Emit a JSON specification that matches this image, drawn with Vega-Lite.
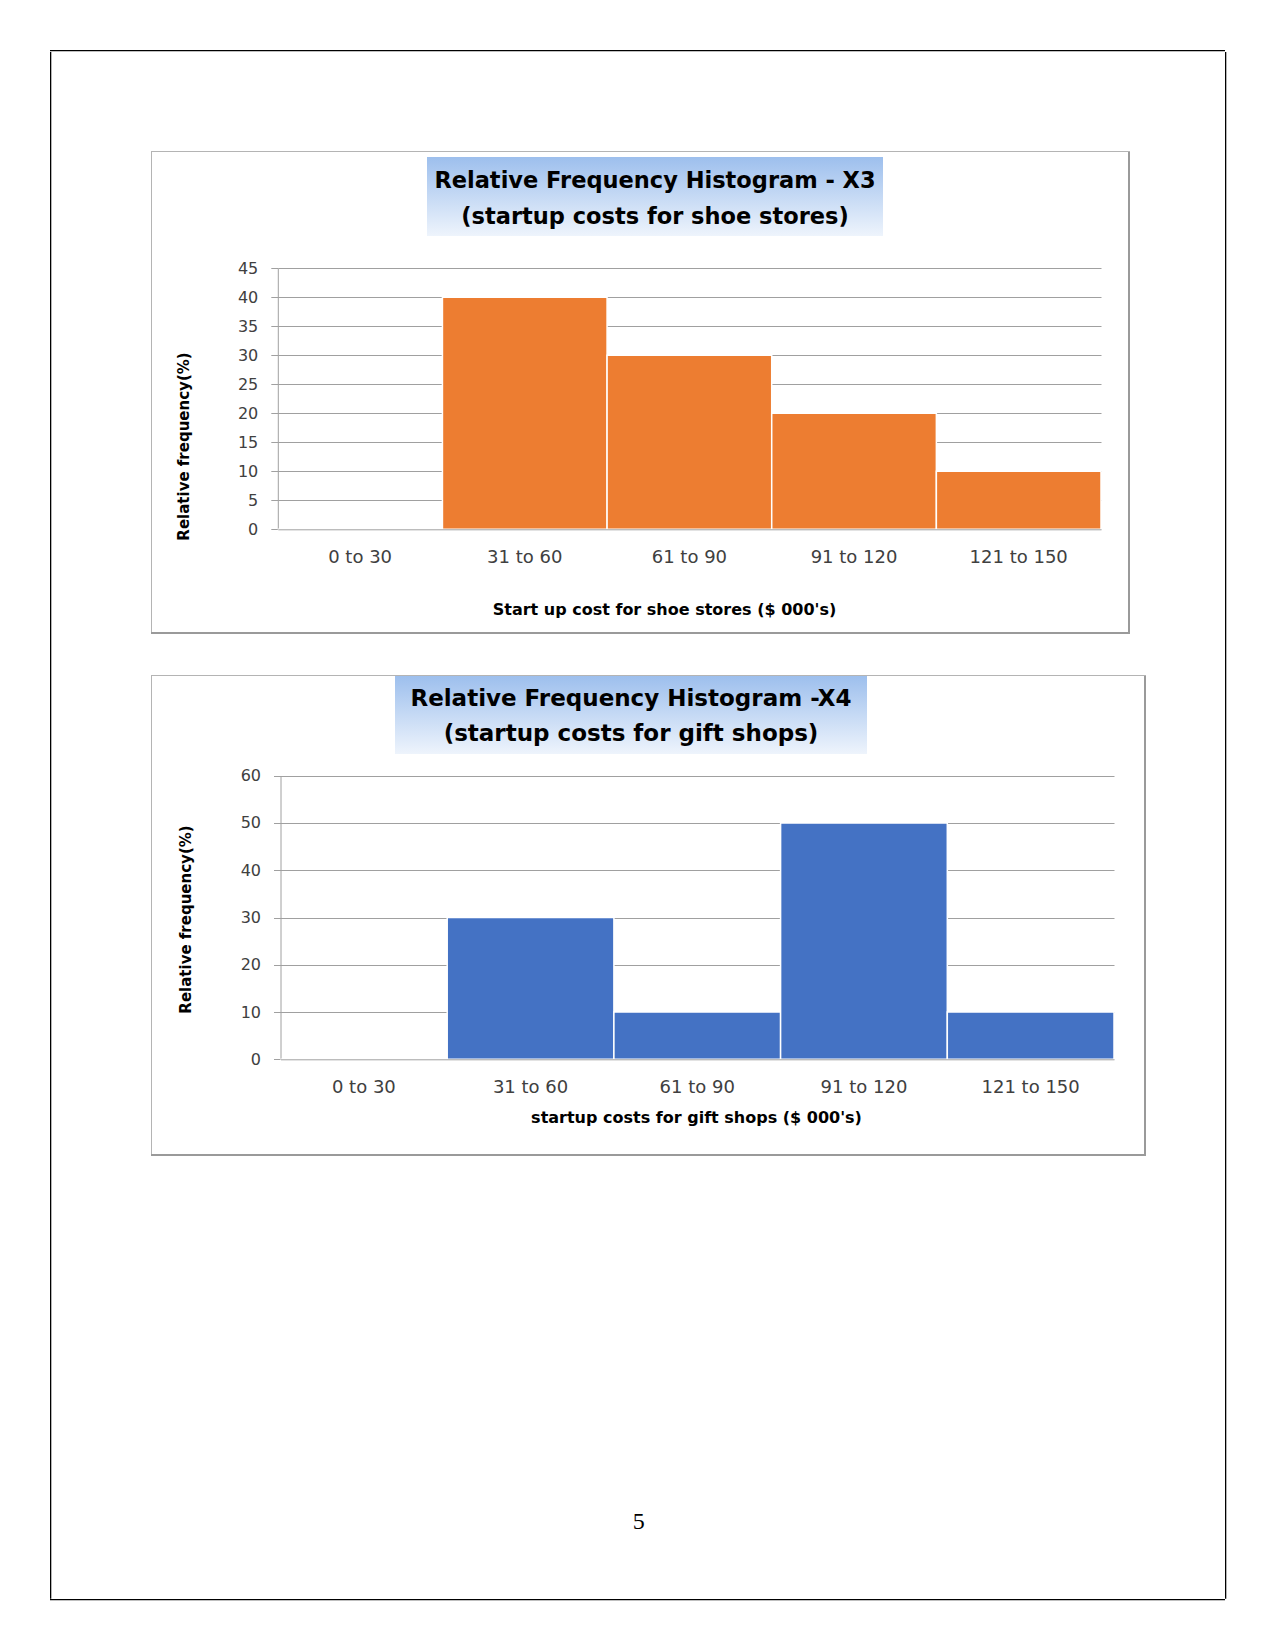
{
  "$schema": "https://vega.github.io/schema/vega-lite/v6.json",
  "padding": {"left": 50, "top": 50, "right": 50, "bottom": 50},
  "background": "white",
  "config": {"view": {"stroke": null}, "concat": {"spacing": 0}},
  "datasets": {
    "shoe": [
      {"bin": "0 to 30", "freq": 0},
      {"bin": "31 to 60", "freq": 40},
      {"bin": "61 to 90", "freq": 30},
      {"bin": "91 to 120", "freq": 20},
      {"bin": "121 to 150", "freq": 10}
    ],
    "gift": [
      {"bin": "0 to 30", "freq": 0},
      {"bin": "31 to 60", "freq": 30},
      {"bin": "61 to 90", "freq": 10},
      {"bin": "91 to 120", "freq": 50},
      {"bin": "121 to 150", "freq": 10}
    ],
    "titles": [
      {"chart": "X3", "line": 1, "text": "Relative Frequency Histogram - X3"},
      {"chart": "X3", "line": 2, "text": "(startup costs for shoe stores)"},
      {"chart": "X4", "line": 1, "text": "Relative Frequency Histogram  -X4"},
      {"chart": "X4", "line": 2, "text": "(startup costs for gift shops)"}
    ],
    "page": [{"num": "5"}]
  },
  "spacing": 0,
  "vconcat": [
    {"width": 1175, "height": 1.3, "view": {"fill": "black"}, "data": {"values": []}, "mark": "rect", "encoding": {}},
    {
      "spacing": 0,
      "hconcat": [
        {"width": 1.3, "height": 1546.7, "view": {"fill": "black"}, "data": {"values": []}, "mark": "rect", "encoding": {}},
        {"width": 98.7, "height": 1, "data": {"values": []}, "mark": "rect", "encoding": {}},
        {
          "spacing": 0,
          "vconcat": [
            {"width": 1, "height": 98.7, "data": {"values": []}, "mark": "rect", "encoding": {}},
            {
              "spacing": 0,
              "vconcat": [
                {"width": 979, "height": 1, "view": {"fill": "#b4b4b4"}, "data": {"values": []}, "mark": "rect", "encoding": {}},
                {
                  "spacing": 0,
                  "hconcat": [
                    {"width": 1, "height": 480, "view": {"fill": "#b4b4b4"}, "data": {"values": []}, "mark": "rect", "encoding": {}},
                    {
                      "spacing": 0,
                      "vconcat": [
                        {"width": 1, "height": 5, "data": {"values": []}, "mark": "rect", "encoding": {}},
                        {
                          "spacing": 0,
                          "hconcat": [
                            {"width": 275, "height": 1, "data": {"values": []}, "mark": "rect", "encoding": {}},
                            {
                              "width": 456, "height": 79,
                              "view": {"fill": {"gradient": "linear", "x1": 0, "y1": 0, "x2": 0, "y2": 1, "stops": [{"offset": 0, "color": "#9dbfed"}, {"offset": 1, "color": "#eef4fc"}]}},
                              "data": {"name": "titles"},
                              "transform": [{"filter": "datum.chart === 'X3'"}],
                              "mark": {"type": "text", "font": "DejaVu Sans", "fontWeight": "bold", "fontSize": 22.5, "align": "center", "baseline": "middle", "color": "black"},
                              "encoding": {
                                "y": {"field": "line", "type": "ordinal", "scale": {"type": "point", "padding": 0.597, "align": 0.55}, "axis": null},
                                "text": {"field": "text", "type": "nominal"}
                              }
                            }
                          ]
                        },
                        {
                          "width": 976, "height": 396,
                          "data": {"name": "shoe"},
                          "mark": {"type": "bar", "color": "#ED7D31", "stroke": "white", "strokeWidth": 1.5},
                          "encoding": {
                            "x": {
                              "field": "bin", "type": "nominal", "sort": null,
                              "scale": {"domain": ["0 to 30", "31 to 60", "61 to 90", "91 to 120", "121 to 150"], "range": [125.8, 949], "paddingInner": 0, "paddingOuter": 0},
                              "axis": {
                                "orient": "bottom", "offset": -102.7, "zindex": 1, "labelAngle": 0,
                                "ticks": false, "tickSize": 0, "labelPadding": 28.4, "labelBaseline": "middle",
                                "labelFont": "DejaVu Sans", "labelFontSize": 18, "labelColor": "#404040",
                                "domainColor": "#a0a0a0", "domainWidth": 1, "grid": false,
                                "title": "Start up cost for shoe stores ($ 000's)",
                                "titleX": 512, "titleY": 80, "titleAlign": "center", "titleBaseline": "middle",
                                "titleFont": "DejaVu Sans", "titleFontSize": 16, "titleFontWeight": "bold", "titleColor": "black"
                              }
                            },
                            "y": {
                              "field": "freq", "type": "quantitative",
                              "scale": {"domain": [0, 45], "range": [293.3, 32.3], "nice": false, "zero": true},
                              "axis": {
                                "orient": "left", "offset": -125.8,
                                "values": [0, 5, 10, 15, 20, 25, 30, 35, 40, 45],
                                "grid": true, "gridColor": "#a0a0a0", "gridWidth": 1,
                                "domainColor": "#a0a0a0", "tickColor": "#a0a0a0", "tickSize": 7,
                                "labelPadding": 13, "labelFont": "DejaVu Sans", "labelFontSize": 16, "labelColor": "#404040",
                                "title": "Relative frequency(%)",
                                "titleX": -93.8, "titleY": 210, "titleAngle": 270, "titleAlign": "center", "titleBaseline": "middle",
                                "titleFont": "DejaVu Sans", "titleFontSize": 15, "titleFontWeight": "bold", "titleColor": "black"
                              }
                            }
                          }
                        }
                      ]
                    },
                    {"width": 2, "height": 480, "view": {"fill": "#9a9a9a"}, "data": {"values": []}, "mark": "rect", "encoding": {}}
                  ]
                },
                {"width": 979, "height": 2, "view": {"fill": "#9a9a9a"}, "data": {"values": []}, "mark": "rect", "encoding": {}}
              ]
            },
            {"width": 1, "height": 41, "data": {"values": []}, "mark": "rect", "encoding": {}},
            {
              "spacing": 0,
              "vconcat": [
                {"width": 995, "height": 1, "view": {"fill": "#b4b4b4"}, "data": {"values": []}, "mark": "rect", "encoding": {}},
                {
                  "spacing": 0,
                  "hconcat": [
                    {"width": 1, "height": 478, "view": {"fill": "#b4b4b4"}, "data": {"values": []}, "mark": "rect", "encoding": {}},
                    {
                      "spacing": 0,
                      "vconcat": [
                        {
                          "spacing": 0,
                          "hconcat": [
                            {"width": 243, "height": 1, "data": {"values": []}, "mark": "rect", "encoding": {}},
                            {
                              "width": 472, "height": 78,
                              "view": {"fill": {"gradient": "linear", "x1": 0, "y1": 0, "x2": 0, "y2": 1, "stops": [{"offset": 0, "color": "#9dbfed"}, {"offset": 1, "color": "#eef4fc"}]}},
                              "data": {"name": "titles"},
                              "transform": [{"filter": "datum.chart === 'X4'"}],
                              "mark": {"type": "text", "font": "DejaVu Sans", "fontWeight": "bold", "fontSize": 23, "align": "center", "baseline": "middle", "color": "black"},
                              "encoding": {
                                "y": {"field": "line", "type": "ordinal", "scale": {"type": "point", "padding": 0.614, "align": 0.535}, "axis": null},
                                "text": {"field": "text", "type": "nominal"}
                              }
                            }
                          ]
                        },
                        {
                          "width": 992, "height": 400,
                          "data": {"name": "gift"},
                          "mark": {"type": "bar", "color": "#4472C4", "stroke": "white", "strokeWidth": 1.5},
                          "encoding": {
                            "x": {
                              "field": "bin", "type": "nominal", "sort": null,
                              "scale": {"domain": ["0 to 30", "31 to 60", "61 to 90", "91 to 120", "121 to 150"], "range": [128.5, 962], "paddingInner": 0, "paddingOuter": 0},
                              "axis": {
                                "orient": "bottom", "offset": -94.7, "zindex": 1, "labelAngle": 0,
                                "ticks": false, "tickSize": 0, "labelPadding": 28.2, "labelBaseline": "middle",
                                "labelFont": "DejaVu Sans", "labelFontSize": 18, "labelColor": "#404040",
                                "domainColor": "#a0a0a0", "domainWidth": 1, "grid": false,
                                "title": "startup costs for gift shops ($ 000's)",
                                "titleX": 544, "titleY": 58, "titleAlign": "center", "titleBaseline": "middle",
                                "titleFont": "DejaVu Sans", "titleFontSize": 16, "titleFontWeight": "bold", "titleColor": "black"
                              }
                            },
                            "y": {
                              "field": "freq", "type": "quantitative",
                              "scale": {"domain": [0, 60], "range": [305.3, 21.7], "nice": false, "zero": true},
                              "axis": {
                                "orient": "left", "offset": -128.5,
                                "values": [0, 10, 20, 30, 40, 50, 60],
                                "grid": true, "gridColor": "#a0a0a0", "gridWidth": 1,
                                "domainColor": "#a0a0a0", "tickColor": "#a0a0a0", "tickSize": 7,
                                "labelPadding": 13, "labelFont": "DejaVu Sans", "labelFontSize": 16, "labelColor": "#404040",
                                "title": "Relative frequency(%)",
                                "titleX": -95.5, "titleY": 165, "titleAngle": 270, "titleAlign": "center", "titleBaseline": "middle",
                                "titleFont": "DejaVu Sans", "titleFontSize": 15, "titleFontWeight": "bold", "titleColor": "black"
                              }
                            }
                          }
                        }
                      ]
                    },
                    {"width": 2, "height": 478, "view": {"fill": "#9a9a9a"}, "data": {"values": []}, "mark": "rect", "encoding": {}}
                  ]
                },
                {"width": 995, "height": 2, "view": {"fill": "#9a9a9a"}, "data": {"values": []}, "mark": "rect", "encoding": {}}
              ]
            },
            {"width": 1, "height": 289, "data": {"values": []}, "mark": "rect", "encoding": {}},
            {
              "width": 975.4, "height": 154,
              "data": {"name": "page"},
              "mark": {"type": "text", "font": "Liberation Serif", "fontSize": 24, "align": "center", "baseline": "middle", "color": "black"},
              "encoding": {"text": {"field": "num", "type": "nominal"}}
            }
          ]
        },
        {"width": 78.7, "height": 1, "data": {"values": []}, "mark": "rect", "encoding": {}},
        {"width": 1.3, "height": 1546.7, "view": {"fill": "black"}, "data": {"values": []}, "mark": "rect", "encoding": {}}
      ]
    },
    {"width": 1175, "height": 1.3, "view": {"fill": "black"}, "data": {"values": []}, "mark": "rect", "encoding": {}}
  ]
}
